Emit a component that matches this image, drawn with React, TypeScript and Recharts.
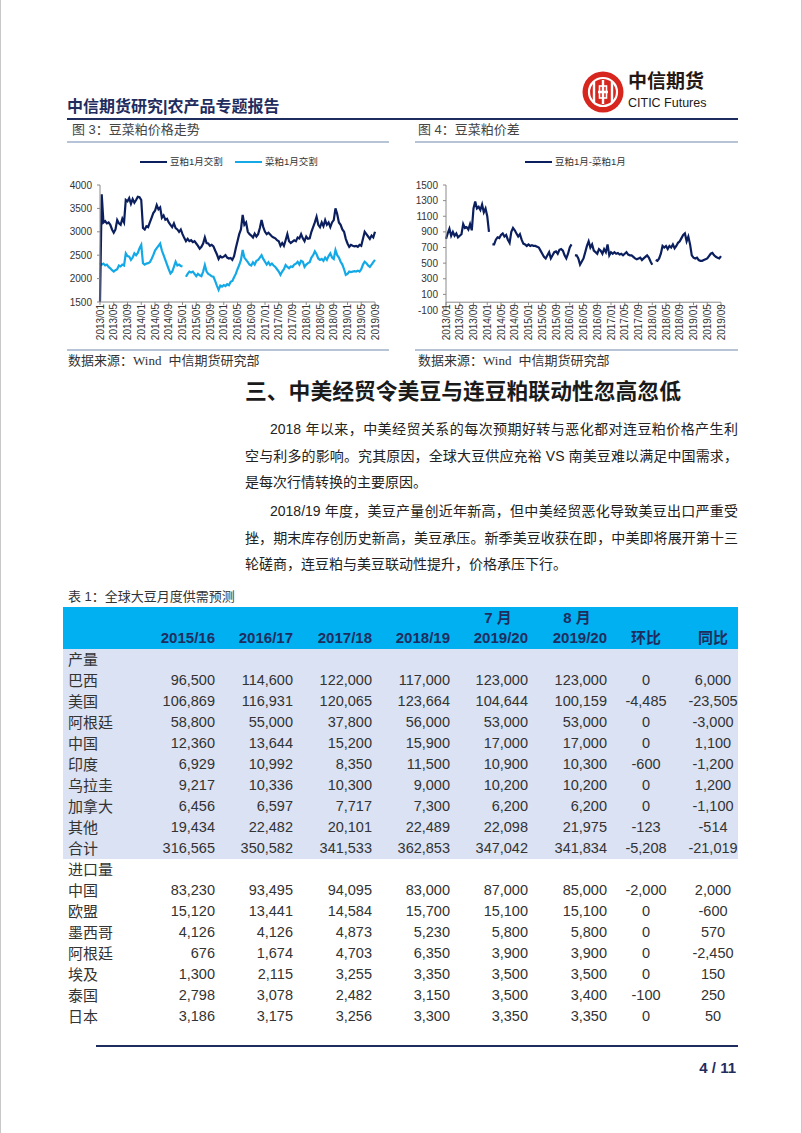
import React from "react";
import { LineChart, Line, XAxis, YAxis, ReferenceLine } from "recharts";

// x axis: half-month steps from 2013/01 to 2019/09, labels every 4 months
const tickLabels = [
  "2013/01", "2013/05", "2013/09", "2014/01", "2014/05", "2014/09", "2015/01",
  "2015/05", "2015/09", "2016/01", "2016/05", "2016/09", "2017/01", "2017/05",
  "2017/09", "2018/01", "2018/05", "2018/09", "2019/01", "2019/05", "2019/09",
];

// 豆粕1月交割
const soyMeal = [
  1500, 3800, 3200, 3230, 3180, 3200, 3150, 3050, 2980, 3050, 3250, 3180, 3150, 3280, 3200, 3680, 3650, 3720, 3600, 3700, 3620, 3680, 3750, 3740,
  3680, 3080, 3050, 3120, 3100, 3200, 3300, 3400, 3450, 3570, 3480, 3520, 3300, 3350, 3260, 3280, 3200, 3150, 3100, 3180, 3080, 3050, 3000, 3050,
  2950, 2870, 2800, 2850, 2800, 2820, 2780, 2800, 2750, 2700, 2640, 2680, 2750, 2880, 2760, 2750, 2700, 2720, 2690, 2600, 2520, 2420, 2480, 2450,
  2470, 2500, 2450, 2430, 2440, 2400, 2480, 2650, 2800, 2950, 3050, 3360, 3150, 3200, 3000, 2950, 2920, 2880, 2960, 2900, 2950, 3080, 3250, 3100,
  3000, 2950, 2980, 2940, 2900, 2880, 2860, 2820, 2800, 2700, 2760, 2700, 2820, 2950, 2800, 2760, 2790, 2820, 2800, 2880, 2860, 2950, 2860, 2800,
  2900, 2850, 2860, 3000, 3100, 3200, 3320, 3150, 3100, 3200, 3120, 3250, 3150, 3200, 3100, 3200, 3250, 3500, 3380, 3200, 3150, 3050, 3000, 2850,
  2750, 2680, 2720, 2700, 2690, 2700, 2680, 2720, 2700, 2850, 3000, 2950, 2900, 2850, 2920, 2880, 3000,
];

// 菜粕1月交割
const rapeMeal = [
  2330, 2300, 2320, 2280, 2300, 2250, 2220, 2180, 2150, 2180, 2200, 2280, 2260, 2300, 2280, 2540, 2480, 2470, 2400, 2450, 2540, 2500, 2550, 2650,
  2720, 2330, 2300, 2320, 2330, 2350, 2420, 2500, 2600, 2650, 2700, 2750, 2600, 2500, 2400, 2300, 2200, 2110, 2150, 2250, 2360, 2280, 2300, 2270,
  2260, null, 2040, 2100, 2150, 2130, 2150, 2100, 2050, 2100, 2070, 2050, 2150, 2290, 2150, 2100, 2080, 2050, 2040, 1950, 1850, 1760, 1850, 1830,
  1860, 1840, 1880, 1860, 1930, 1950, 2030, 2100, 2200, 2290, 2400, 2610, 2450, 2400, 2350, 2300, 2280, 2350, 2300, 2380, 2400, 2450, 2500, 2420,
  2360, 2300, 2350, 2290, 2320, 2280, 2250, 2200, 2150, 2080, 2150, 2200, 2290, 2250, 2220, 2260, 2250, 2300, 2320, 2360, 2300, 2380, 2360, 2250,
  2300, 2330, 2350, 2450, 2500, 2580, 2520, 2430, 2400, 2420, 2380, 2450, 2400, 2480, 2540, 2450, 2420, 2610, 2500, 2450, 2360, 2300, 2200, 2080,
  2100, 2150, 2140, 2150, 2160, 2150, 2170, 2150, 2200, 2300, 2360, 2330, 2280, 2250, 2300, 2350, 2400,
];

// 豆粕1月-菜粕1月
const mealSpread = [
  810, 880, 940, 850, 900, 850, 880, 830, 850, 870, 1000, 950, 960, 930, 1000, 920, 1200, 1290, 1200, 1220, 1180, 1250, 1150, 1200,
  1100, 900, null, 740, 740, 800, 830, 820, 860, 880, 840, 860, 800, 760, 900, 950, 920, 880, 840, 870, 800, 750, 740, 720,
  740, 720, 730, 720, 720, 710, 700, 660, 620, 580, 560, 600, 640, 560, 600, 640, 650, 620, 670, 680, 660, 600, 560, 620,
  700, 740, null, 600, 600, 560, 480, 520, 560, 640, 720, 780, 700, 740, 660, 640, 620, 680, 660, 620, 680, 640, 740, 600,
  640, 620, 640, 620, 630, 610, 620, 600, 620, 640, 610, 600, 600, 580, 560, 550, 560, 570, 540, 560, 580, 600, 570, 520,
  480, null, 540, 530, 560, 620, 720, 700, 720, 680, 720, 700, 740, 690, 720, 760, 780, 820, 860, 880, 780, 840, 740, 600,
  570, 560, 570, 540, 530, 530, 540, 550, 560, 590, 620, 630, 600, 580, 570, 560, 590,
];

const priceTicks = [1500, 2000, 2500, 3000, 3500, 4000];
const spreadTicks = [-100, 100, 300, 500, 700, 900, 1100, 1300, 1500];

// 表1
const tableYears = ["2015/16", "2016/17", "2017/18", "2018/19", "2019/20", "2019/20", "环比", "同比"];
const tableMonths = ["", "", "", "", "7 月", "8 月", "", ""];
const prodRegions = ["巴西", "美国", "阿根廷", "中国", "印度", "乌拉圭", "加拿大", "其他", "合计"];
const prodValues = [
  [96500, 114600, 122000, 117000, 123000, 123000, 0, 6000],
  [106869, 116931, 120065, 123664, 104644, 100159, -4485, -23505],
  [58800, 55000, 37800, 56000, 53000, 53000, 0, -3000],
  [12360, 13644, 15200, 15900, 17000, 17000, 0, 1100],
  [6929, 10992, 8350, 11500, 10900, 10300, -600, -1200],
  [9217, 10336, 10300, 9000, 10200, 10200, 0, 1200],
  [6456, 6597, 7717, 7300, 6200, 6200, 0, -1100],
  [19434, 22482, 20101, 22489, 22098, 21975, -123, -514],
  [316565, 350582, 341533, 362853, 347042, 341834, -5208, -21019],
];
const importRegions = ["中国", "欧盟", "墨西哥", "阿根廷", "埃及", "泰国", "日本"];
const importValues = [
  [83230, 93495, 94095, 83000, 87000, 85000, -2000, 2000],
  [15120, 13441, 14584, 15700, 15100, 15100, 0, -600],
  [4126, 4126, 4873, 5230, 5800, 5800, 0, 570],
  [676, 1674, 4703, 6350, 3900, 3900, 0, -2450],
  [1300, 2115, 3255, 3350, 3500, 3500, 0, 150],
  [2798, 3078, 2482, 3150, 3500, 3400, -100, 250],
  [3186, 3175, 3256, 3300, 3350, 3350, 0, 50],
];

const paragraphs = [
  [
    "2018 年以来，中美经贸关系的每次预期好转与恶化都对连豆粕价格产生利",
    "空与利多的影响。究其原因，全球大豆供应充裕 VS 南美豆难以满足中国需求，",
    "是每次行情转换的主要原因。",
  ],
  [
    "2018/19 年度，美豆产量创近年新高，但中美经贸恶化导致美豆出口严重受",
    "挫，期末库存创历史新高，美豆承压。新季美豆收获在即，中美即将展开第十三",
    "轮磋商，连豆粕与美豆联动性提升，价格承压下行。",
  ],
];

const priceData = soyMeal.map((v, i) => ({ t: i / 2, soy: v, rape: rapeMeal[i] }));
const spreadData = mealSpread.map((v, i) => ({ t: i / 2, spread: v }));
const tickPos = tickLabels.map((_, k) => k * 4);

const FONT = "'Liberation Sans', Arial, 'Noto Sans CJK SC', sans-serif";
const NAVY = "#0B1F5E";
const SKY = "#13A9E6";
const AXIS = "#8a8a8a";
const TEXT = "#2b2b2b";

const DateTick = (props: any) => {
  const { x, y, payload, lift = 0, mark = false } = props;
  const label = tickLabels[Math.round(payload.value / 4)];
  return (
    <g transform={`translate(${x},${y - lift})`}>
      {mark && <line x1={0} y1={-5} x2={0} y2={-2} stroke={AXIS} />}
      <text
        transform="rotate(-90)"
        x={3}
        dy="0.35em"
        textAnchor="end"
        fontSize={10}
        fill="#333"
        fontFamily={FONT}
      >
        {label}
      </text>
    </g>
  );
};

const Txt = ({ x, y, size = 13, weight = 400, color = TEXT, children, w, align }: any) => (
  <div
    style={{
      position: "absolute",
      left: x,
      top: y - size,
      height: size * 2,
      lineHeight: `${size * 2}px`,
      fontSize: size,
      fontWeight: weight,
      color,
      whiteSpace: "nowrap",
      width: w,
      textAlign: align,
      textAlignLast: align,
    }}
  >
    {children}
  </div>
);

const LegendItem = ({ x, color, label }: any) => (
  <>
    <div style={{ position: "absolute", left: x, top: 160.5, width: 27, height: 2.5, background: color }} />
    <Txt x={x + 30} y={161.5} size={9.5} color="#333">{label}</Txt>
  </>
);

const fmt = (v: number) => v.toLocaleString("en-US");

const colRight = [215, 293, 372, 450, 528, 607];
const colCenter = [646, 713];

const Cell = ({ col, y, children, weight = 400, color = "#333", size = 14.5 }: any) =>
  col < 6 ? (
    <Txt x={colRight[col] - 90} w={90} align="right" y={y} size={size} weight={weight} color={color}>{children}</Txt>
  ) : (
    <Txt x={colCenter[col - 6] - 45} w={90} align="center" y={y} size={size} weight={weight} color={color}>{children}</Txt>
  );

const ROW0 = 649;
const ROWH = 21;

export default function App() {
  const bodyRows: { label: string; values: number[] | null }[] = [
    { label: "产量", values: null },
    ...prodRegions.map((r, i) => ({ label: r, values: prodValues[i] })),
    { label: "进口量", values: null },
    ...importRegions.map((r, i) => ({ label: r, values: importValues[i] })),
  ];

  return (
    <div
      style={{
        position: "absolute",
        left: 0,
        top: 0,
        width: 802,
        height: 1133,
        background: "#fff",
        overflow: "hidden",
        fontFamily: FONT,
      }}
    >
      {/* page edges */}
      <div style={{ position: "absolute", left: 0, top: 0, width: 1, height: 1133, background: "#c8c8c8" }} />
      <div style={{ position: "absolute", left: 801, top: 0, width: 1, height: 1133, background: "#c8c8c8" }} />

      {/* header */}
      <svg style={{ position: "absolute", left: 582, top: 71 }} width={42} height={42}>
        <circle cx={21} cy={21} r={20.5} fill="#D6261D" />
        <circle cx={21} cy={21} r={14} fill="none" stroke="#fff" strokeWidth={2.2} />
        <path d="M12 11 L12 31 M30 11 L30 31 M16 21 L26 21 M21 9 L21 33" stroke="#fff" strokeWidth={2.4} />
        <rect x={17.5} y={15} width={7} height={12} fill="none" stroke="#fff" strokeWidth={1.6} />
      </svg>
      <Txt x={628} y={82} size={19} weight={700} color="#231815">中信期货</Txt>
      <Txt x={628} y={103} size={12.5} color="#231815">CITIC Futures</Txt>
      <Txt x={67} y={107} size={16} weight={700} color="#1F2D5E">中信期货研究|农产品专题报告</Txt>
      <div style={{ position: "absolute", left: 67, top: 118, width: 671, height: 2, background: "#1F2D5E" }} />

      <Txt x={72} y={130} size={13} color="#444">图 3：豆菜粕价格走势</Txt>
      <Txt x={418} y={130} size={13} color="#444">图 4：豆菜粕价差</Txt>

      {/* chart frames */}
      <div style={{ position: "absolute", left: 67, top: 141, width: 322, height: 2, background: "#B7C3D6" }} />
      <div style={{ position: "absolute", left: 415, top: 141, width: 323, height: 2, background: "#B7C3D6" }} />
      <div style={{ position: "absolute", left: 67, top: 349, width: 322, height: 2, background: "#B7C3D6" }} />
      <div style={{ position: "absolute", left: 415, top: 349, width: 323, height: 2, background: "#B7C3D6" }} />

      {/* 图3 */}
      <LegendItem x={140} color={NAVY} label="豆粕1月交割" />
      <LegendItem x={235} color={SKY} label="菜粕1月交割" />
      <div style={{ position: "absolute", left: 60, top: 145 }}>
        <LineChart width={340} height={205} data={priceData} margin={{ top: 40, right: 25, bottom: 0, left: 0 }}>
          <XAxis
            dataKey="t"
            type="number"
            domain={[0, 80]}
            ticks={tickPos}
            interval={0}
            height={48}
            tickSize={3}
            stroke={AXIS}
            tick={<DateTick />}
          />
          <YAxis
            domain={[1500, 4000]}
            ticks={priceTicks}
            width={40}
            tickSize={3}
            tickMargin={5}
            stroke={AXIS}
            interval={0}
            tick={{ fontSize: 10, fill: "#333", fontFamily: FONT }}
          />
          <Line dataKey="rape" stroke={SKY} strokeWidth={2.2} dot={false} isAnimationActive={false} />
          <Line dataKey="soy" stroke={NAVY} strokeWidth={2.2} dot={false} isAnimationActive={false} />
        </LineChart>
      </div>

      {/* 图4 */}
      <LegendItem x={525} color={NAVY} label="豆粕1月-菜粕1月" />
      <div style={{ position: "absolute", left: 405, top: 145 }}>
        <LineChart width={340} height={205} data={spreadData} margin={{ top: 40, right: 24, bottom: 0, left: 0 }}>
          <XAxis
            dataKey="t"
            type="number"
            domain={[0, 80]}
            ticks={tickPos}
            interval={0}
            height={40}
            tickSize={3}
            axisLine={false}
            tickLine={false}
            tick={<DateTick lift={125 * 100 / 1600} mark />}
          />
          <YAxis
            domain={[-100, 1500]}
            ticks={spreadTicks}
            width={41}
            tickSize={3}
            tickMargin={5}
            stroke={AXIS}
            interval={0}
            tick={{ fontSize: 10, fill: "#333", fontFamily: FONT }}
          />
          <ReferenceLine y={0} stroke={AXIS} />
          <Line dataKey="spread" stroke={NAVY} strokeWidth={2.2} dot={false} isAnimationActive={false} />
        </LineChart>
      </div>

      <Txt x={68} y={361} size={13} color="#333">
        数据来源：<span style={{ fontFamily: "'Liberation Serif', serif" }}>Wind</span>&nbsp; 中信期货研究部
      </Txt>
      <Txt x={418} y={361} size={13} color="#333">
        数据来源：<span style={{ fontFamily: "'Liberation Serif', serif" }}>Wind</span>&nbsp; 中信期货研究部
      </Txt>

      {/* section */}
      <Txt x={245} y={392} size={21.8} weight={700} color="#1a1a1a">三、中美经贸令美豆与连豆粕联动性忽高忽低</Txt>
      {paragraphs.map((lines, p) =>
        lines.map((ln, i) => {
          const y = (p === 0 ? 429 : 511) + i * 26.5;
          const first = i === 0;
          const last = i === lines.length - 1;
          return (
            <Txt
              key={`${p}-${i}`}
              x={first ? 270 : 245}
              y={y}
              size={14}
              color="#222"
              w={last ? undefined : first ? 468 : 493}
              align={last ? undefined : "justify"}
            >
              {ln}
            </Txt>
          );
        })
      )}

      {/* 表1 */}
      <Txt x={68} y={597} size={13} color="#333">表 1：全球大豆月度供需预测</Txt>
      <div style={{ position: "absolute", left: 63, top: 607, width: 675, height: 42, background: "#00B0F0" }} />
      <div style={{ position: "absolute", left: 63, top: 649, width: 675, height: ROWH * 10, background: "#DAE2F3" }} />
      {tableYears.map((yr, c) => (
        <React.Fragment key={`h${c}`}>
          {tableMonths[c] && (
            <Txt x={colRight[c] - 57} w={54} align="center" y={618} size={15} weight={700} color="#1F2D5E">
              {tableMonths[c]}
            </Txt>
          )}
          <Cell col={c} y={638} weight={700} color="#1F2D5E" size={15}>{yr}</Cell>
        </React.Fragment>
      ))}
      {bodyRows.map((row, r) => {
        const y = ROW0 + r * ROWH + ROWH / 2;
        return (
          <React.Fragment key={`r${r}`}>
            <Txt x={68} y={y} size={15} color="#333">{row.label}</Txt>
            {row.values && row.values.map((v, c) => <Cell key={c} col={c} y={y}>{fmt(v)}</Cell>)}
          </React.Fragment>
        );
      })}

      {/* footer */}
      <div style={{ position: "absolute", left: 96, top: 1045, width: 642, height: 1.5, background: "#1F2D5E" }} />
      <Txt x={660} w={76} align="right" y={1068} size={15} weight={700} color="#1F2D5E">4 / 11</Txt>
    </div>
  );
}
